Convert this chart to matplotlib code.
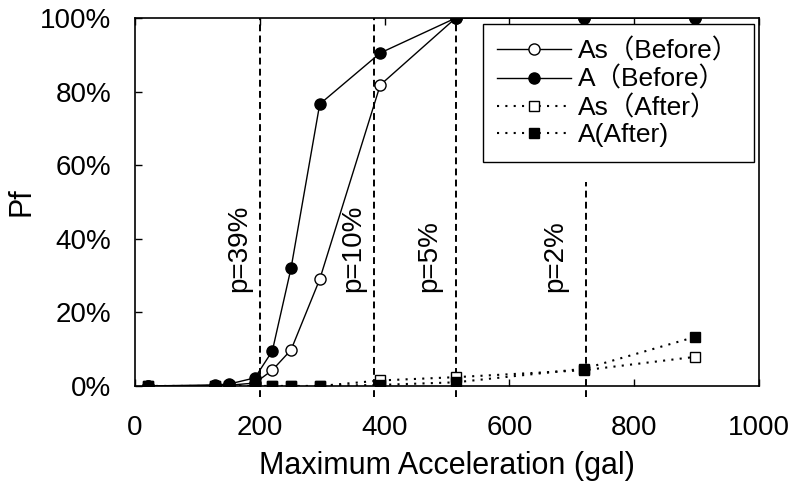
import matplotlib
matplotlib.use("Agg")
import matplotlib.pyplot as plt
from matplotlib.ticker import FuncFormatter

plt.rcParams['font.family'] = ['Liberation Sans', 'Noto Sans CJK JP', 'DejaVu Sans']

# Data
accel = [20, 128, 150, 192, 220, 250, 296, 393, 514, 720, 897]
as_before = [0, 0.1, 0.2, 0.8, 4.3, 9.8, 29, 81.8, 100, 100, 100]
a_before = [0, 0.3, 0.5, 2.2, 9.5, 32, 76.6, 90.5, 100, 100, 100]
as_after = [0, 0, 0, 0, 0, 0, 0, 1.5, 2.4, 4.3, 7.9]
a_after = [0, 0, 0, 0, 0, 0, 0, 0.3, 1.0, 4.7, 13.3]

ref_x = [200, 383, 515, 722]
ref_top = [100, 100, 100, 55.5]
ref_labels = ["p=39%", "p=10%", "p=5%", "p=2%"]
ref_text_x = [188, 370, 492, 694]

x_ticks = [0, 200, 400, 600, 800, 1000]
y_ticks = [0, 20, 40, 60, 80, 100]

fig = plt.figure(figsize=(7.91, 4.84), dpi=100)
ax = fig.add_axes([0.1707, 0.2025, 0.7889, 0.7603])

FS = 20
FL = 22
FLEG = 19

# reference dashed lines
for xv, top, lab, tx in zip(ref_x, ref_top, ref_labels, ref_text_x):
    ax.plot([xv, xv], [-3, top], color='black', lw=1.4, dashes=(3.5, 2.2),
            clip_on=False, zorder=1)
    ax.text(tx, 25.5, lab, rotation=90, ha='right', va='bottom', fontsize=FS)
# short stub of the p=2% line at the top (mostly hidden by the legend)
ax.plot([ref_x[3], ref_x[3]], [100, 95], color='black', lw=1.4, dashes=(3.5, 2.2),
        zorder=1)

ax.plot(accel, as_before, color='black', lw=1.0, marker='o', ms=8,
        mfc='white', mec='black', mew=1.0, label='As（Before）', zorder=3)
ax.plot(accel, a_before, color='black', lw=1.0, marker='o', ms=8,
        mfc='black', mec='black', label='A（Before）', zorder=3)
ax.plot(accel, as_after, color='black', lw=1.5, dashes=(1, 3), marker='s', ms=7.5,
        mfc='white', mec='black', mew=1.0, label='As（After）', zorder=4)
ax.plot(accel, a_after, color='black', lw=1.5, dashes=(1, 3), marker='s', ms=7.5,
        mfc='black', mec='black', label='A(After)', zorder=4)

ax.set_xlim(0, 1000)
ax.set_ylim(0, 100)
ax.set_xticks(x_ticks)
ax.set_yticks(y_ticks)
ax.yaxis.set_major_formatter(FuncFormatter(lambda v, p: f"{int(v)}%"))
ax.tick_params(direction='in', length=5, width=1, labelsize=FS,
               top=True, right=False)
ax.tick_params(axis='y', pad=17)
ax.tick_params(axis='x', pad=21)
for s in ax.spines.values():
    s.set_linewidth(1.2)

ax.set_xlabel("Maximum Acceleration (gal)", fontsize=FL, labelpad=7)
ax.set_ylabel("Pf", fontsize=FL)
ax.yaxis.set_label_coords(-0.158, 0.5)

leg = ax.legend(loc='upper right', bbox_to_anchor=(0.992, 0.9837), fontsize=FLEG,
                frameon=True, fancybox=False, edgecolor='black',
                framealpha=1, borderpad=0.55, labelspacing=0.12,
                handlelength=2.8, handletextpad=0.27, borderaxespad=0)
leg.get_frame().set_linewidth(1.0)
leg.set_zorder(10)

fig.savefig("out.png", dpi=100)
